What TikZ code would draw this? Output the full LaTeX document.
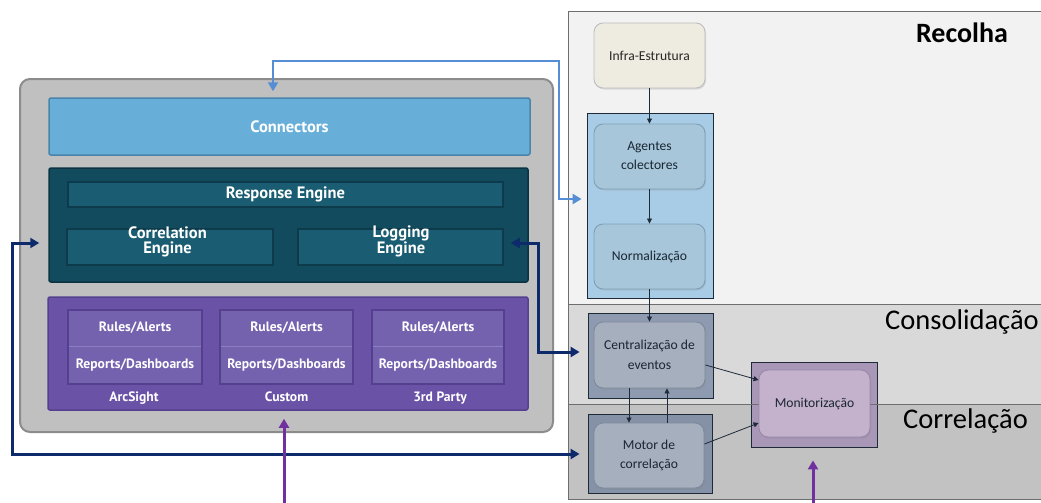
\documentclass[tikz,border=0pt]{standalone}
\usepackage{fontspec}
\setmainfont{Carlito}
\newfontfamily\archfont{PT Sans}
\usetikzlibrary{arrows.meta,shadows}

% palette
\definecolor{panelgray}{HTML}{C0C0C0}
\definecolor{panelrim}{HTML}{8C8C8C}
\definecolor{connfill}{HTML}{67AED9}
\definecolor{connrim}{HTML}{4A84AB}
\definecolor{tealfill}{HTML}{124A5E}
\definecolor{tealrim}{HTML}{0B3342}
\definecolor{tealbox}{HTML}{1A5D72}
\definecolor{tealboxrim}{HTML}{0D3B4B}
\definecolor{purfill}{HTML}{6A53A7}
\definecolor{purrim}{HTML}{54408F}
\definecolor{purbox}{HTML}{7462AF}
\definecolor{purline}{HTML}{8D7FC3}
\definecolor{bandA}{HTML}{F2F2F2}
\definecolor{bandB}{HTML}{D9D9D9}
\definecolor{bandC}{HTML}{C2C2C2}
\definecolor{framerim}{HTML}{6E6E6E}
\definecolor{infrafill}{HTML}{EEEBE0}
\definecolor{infrarim}{HTML}{BDBDBD}
\definecolor{bluecont}{HTML}{A9CCE6}
\definecolor{bluebox}{HTML}{A7C6D9}
\definecolor{blueboxrim}{HTML}{7F9FB5}
\definecolor{slatecont}{HTML}{8E9AAF}
\definecolor{slatecontB}{HTML}{8591A6}
\definecolor{slatebox}{HTML}{A6AFBD}
\definecolor{slateboxrim}{HTML}{7D8A9C}
\definecolor{moncont}{HTML}{A897B6}
\definecolor{monbox}{HTML}{C4B1CC}
\definecolor{monboxrim}{HTML}{9C86AB}
\definecolor{labelink}{HTML}{1A2633}
\definecolor{linkblue}{HTML}{558ED5}
\definecolor{linknavy}{HTML}{0D2A6B}
\definecolor{linkpurple}{HTML}{7030A0}
\definecolor{flowline}{HTML}{1E2A38}

\tikzset{
  archtext/.style={text=white, font=\archfont\bfseries},
  archbox/.style={draw, inner sep=0pt, align=center},
  bigfont/.style={font=\archfont\bfseries\fontsize{16.5}{15}\selectfont},
  smallfont/.style={font=\archfont\bfseries\fontsize{13.6}{13.6}\selectfont},
  procbox/.style={draw, line width=0.9pt, rounded corners=9pt, inner sep=0pt, align=center,
    text=labelink, font=\fontsize{13.6}{19.5}\selectfont,
    drop shadow={opacity=0.22, shadow xshift=1pt, shadow yshift=-1.5pt}},
  container/.style={draw=flowline, line width=0.8pt, inner sep=0pt},
  flow/.style={draw=flowline, line width=0.8pt, -{Triangle[length=5pt,width=5pt]}},
  bigarrow/.style={line width=3pt, {Triangle[length=9pt,width=10pt]}-{Triangle[length=9pt,width=10pt]}},
  uparrow/.style={line width=3pt, -{Triangle[length=9pt,width=10pt]}},
  bandtitle/.style={anchor=west, inner sep=0pt, text=black},
}

\begin{document}
\begin{tikzpicture}[x=1pt, y=-1pt]
\useasboundingbox (0,0) rectangle (1041,503);
\clip (0,0) rectangle (1041,503);
\fill[white] (0,0) rectangle (1041,503);

% ---------- right: process bands ----------
\fill[bandA] (568,12) rectangle (1060,304);
\fill[bandB] (568,304) rectangle (1060,404);
\fill[bandC] (568,404) rectangle (1060,499);
\draw[framerim, line width=1pt] (1060,12) -- (568,12) -- (568,499) -- (1060,499);

\node[bandtitle, anchor=center, font=\fontsize{28}{28}\selectfont\bfseries] (recolha) at (962,33) {Recolha};
\node[bandtitle, font=\fontsize{28.5}{28}\selectfont] (consol) at (885,322) {Consolidação};
\node[bandtitle, font=\fontsize{28.5}{28}\selectfont] (correl) at (903,421) {Correlação};

% containers
\node[container, fill=bluecont, minimum width=126pt, minimum height=185pt] (bcont) at (650,205.5) {};
\node[container, fill=slatecont, minimum width=125pt, minimum height=85pt] (ccont) at (650.5,355.5) {};
\node[container, fill=slatecontB, minimum width=124pt, minimum height=79pt] (mcont) at (650,453.5) {};
\node[container, fill=moncont, minimum width=126pt, minimum height=85pt] (ncont) at (814,404.5) {};

% band separators
\draw[framerim, line width=1pt] (568,304) -- (1060,304);
\draw[framerim, line width=1pt] (568,404) -- (1060,404);

% process steps
\node[procbox, draw=infrarim, fill=infrafill, text=black!85, minimum width=111pt, minimum height=65pt] (infra) at (649.5,55.5) {Infra-Estrutura};
\node[procbox, draw=blueboxrim, fill=bluebox, minimum width=111pt, minimum height=65pt] (agentes) at (649.5,156.5) {\raisebox{4pt}{\begin{tabular}{@{}c@{}}Agentes\\[-0.5pt]colectores\end{tabular}}};
\node[procbox, draw=blueboxrim, fill=bluebox, minimum width=111pt, minimum height=65pt] (normal) at (649.5,256.5) {Normalização};
\node[procbox, draw=slateboxrim, fill=slatebox, minimum width=111pt, minimum height=66pt] (central) at (649.5,355) {Centralização de\\eventos};
\node[procbox, draw=slateboxrim, fill=slatebox, minimum width=110pt, minimum height=65pt] (motor) at (649,455.5) {Motor de\\correlação};
\node[procbox, draw=monboxrim, fill=monbox, minimum width=111pt, minimum height=67pt] (monit) at (814.5,403.5) {Monitorização};

% process flow
\coordinate (xdown) at (629,0);
\coordinate (xup) at (667,0);
\draw[flow] (infra.south) -- (agentes.north);
\draw[flow] (agentes.south) -- (normal.north);
\draw[flow] (normal.south) -- (central.north);
\draw[flow] (central.south -| xdown) -- (motor.north -| xdown);
\draw[flow] (motor.north -| xup) -- (central.south -| xup);
\draw[flow] ([yshift=-10pt]central.east) -- ([yshift=23.5pt]monit.west);
\draw[flow] ([yshift=11.5pt]motor.east) -- ([yshift=-19.5pt]monit.west);

% ---------- left: architecture stack ----------
\node[archbox, draw=panelrim, line width=2pt, fill=panelgray, rounded corners=10pt, minimum width=533pt, minimum height=353pt] (panel) at (286.5,255.5) {};

\node[archbox, archtext, bigfont, draw=connrim, line width=1.5pt, fill=connfill, rounded corners=2pt, minimum width=481pt, minimum height=57pt] (connectors) at (289.5,126.5) {Connectors};

\node[archbox, draw=tealrim, line width=1.5pt, fill=tealfill, rounded corners=2pt, minimum width=479pt, minimum height=114pt] (engines) at (288.5,225) {};
\node[archbox, archtext, bigfont, draw=tealboxrim, line width=1.5pt, fill=tealbox, minimum width=435pt, minimum height=25pt] (response) at (285.5,194.5) {Response Engine};
\node[archbox, draw=tealboxrim, line width=1.5pt, fill=tealbox, minimum width=206pt, minimum height=36pt] (correng) at (170,247) {};
\node[archbox, draw=tealboxrim, line width=1.5pt, fill=tealbox, minimum width=205pt, minimum height=36pt] (logeng) at (400.5,247) {};
\node[archtext, bigfont, align=center, inner sep=0pt] (correngtxt) at (167.5,241.5) {Correlation\\Engine};
\node[archtext, bigfont, align=center, inner sep=0pt] (logengtxt) at (401,241.5) {Logging\\Engine};

\node[archbox, draw=purrim, line width=1.5pt, fill=purfill, rounded corners=2pt, minimum width=480pt, minimum height=113pt] (content) at (288,353.5) {};
\tikzset{
  rulecell/.style={archbox, archtext, smallfont, draw=purline, line width=1pt, fill=purbox, minimum height=36pt},
  reportcell/.style={archbox, archtext, smallfont, draw=purline, line width=1pt, fill=purbox, minimum height=38pt},
  sourcelabel/.style={archtext, smallfont, inner sep=0pt, anchor=base},
}
\node[rulecell, minimum width=134pt] (arcR) at (135,328) {Rules/Alerts};
\node[reportcell, minimum width=134pt] (arcD) at (135,365) {Reports/Dashboards};
\node[rulecell, minimum width=133pt] (cusR) at (286.5,328) {Rules/Alerts};
\node[reportcell, minimum width=133pt] (cusD) at (286.5,365) {Reports/Dashboards};
\node[rulecell, minimum width=132pt] (thdR) at (438,328) {Rules/Alerts};
\node[reportcell, minimum width=132pt] (thdD) at (438,365) {Reports/Dashboards};
\foreach \c/\w in {135/134, 286.5/133, 438/132}
  \draw[purrim, line width=1.5pt] (\c-\w/2,310) rectangle (\c+\w/2,384);
\node[sourcelabel] (arcL) at (134,401) {ArcSight};
\node[sourcelabel] (cusL) at (286.5,401) {Custom};
\node[sourcelabel] (thdL) at (440,401) {3rd Party};

% ---------- links between the two views ----------
\coordinate (b1) at (273,61);
\coordinate (b2) at (559,61);
\coordinate (b3) at (559,199);
\draw[linkblue, bigarrow, line width=2.6pt, shorten <=6pt, shorten >=5pt] (connectors.north -| b1) -- (b1) -- (b2) -- (b3) -- (bcont.west |- b3);

\coordinate (n1) at (12,243);
\coordinate (n2) at (12,454);
\draw[linknavy, bigarrow, shorten <=9pt, shorten >=8pt] (engines.west |- n1) -- (n1) -- (n2) -- (mcont.west |- n2);

\coordinate (n3) at (538,243);
\coordinate (n4) at (538,352);
\draw[linknavy, bigarrow, shorten <=7pt, shorten >=8pt] (logeng.east |- n3) -- (n3) -- (n4) -- (ccont.west |- n4);

\coordinate (p1) at (284,503);
\draw[linkpurple, uparrow, shorten >=8pt] (p1) -- (content.south -| p1);
\coordinate (p2) at (813,503);
\draw[linkpurple, uparrow, shorten >=13pt] (p2) -- (ncont.south -| p2);
\end{tikzpicture}
\end{document}
